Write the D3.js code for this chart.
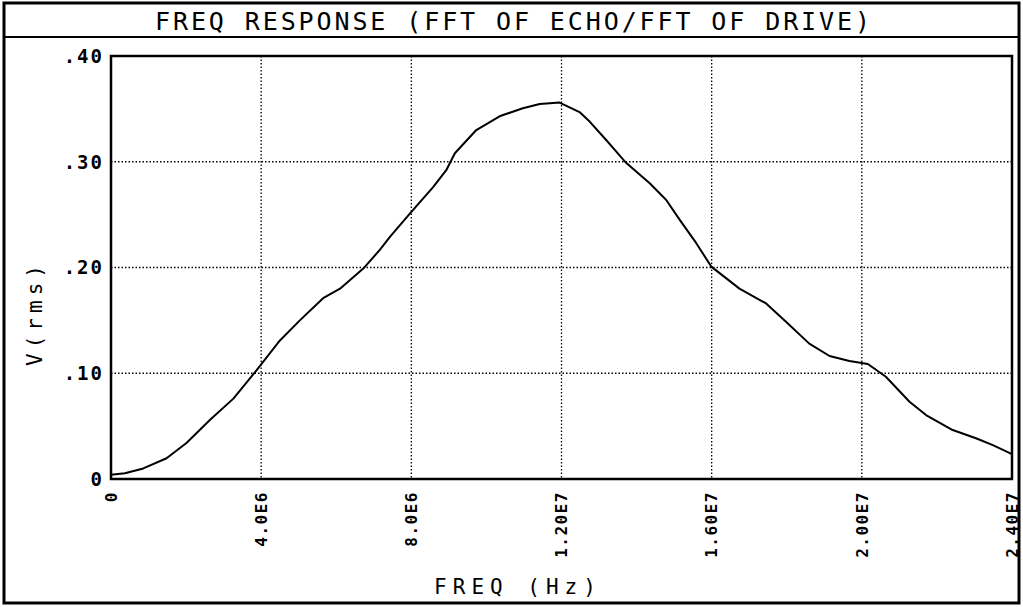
<!DOCTYPE html>
<html><head><meta charset="utf-8">
<script src="https://cdn.jsdelivr.net/npm/d3@7"></script>
<style>
html,body{margin:0;padding:0;background:#fff;}
svg{display:block;}
text{font-family:"DejaVu Sans Mono",monospace;fill:#000;}
</style></head>
<body>
<svg id="chart" width="1023" height="607"></svg>
<script>
const title = "FREQ RESPONSE (FFT OF ECHO/FFT OF DRIVE)";
const xLabel = "FREQ (Hz)";
const yLabel = "V(rms)";
const xTicks = [0, 4e6, 8e6, 1.2e7, 1.6e7, 2.0e7, 2.4e7];
const xTickLabels = ["0", "4.0E6", "8.0E6", "1.20E7", "1.60E7", "2.00E7", "2.40E7"];
const yTicks = [0, 0.1, 0.2, 0.3, 0.4];
const yTickLabels = ["0", ".10", ".20", ".30", ".40"];
const freq = [0, 0.37e6, 0.86e6, 1.48e6, 2.01e6, 2.64e6, 3.26e6, 3.88e6, 4.5e6, 5.03e6, 5.65e6, 6.10e6, 6.72e6, 7.16e6, 7.43e6, 7.96e6, 8.58e6, 8.93e6, 9.16e6, 9.73e6, 10.35e6, 10.97e6, 11.42e6, 11.95e6, 12.48e6, 12.75e6, 13.19e6, 13.46e6, 13.72e6, 14.35e6, 14.79e6, 15.15e6, 15.59e6, 15.99e6, 16.74e6, 17.45e6, 17.98e6, 18.60e6, 19.14e6, 19.67e6, 20.16e6, 20.64e6, 21.27e6, 21.71e6, 22.42e6, 23.04e6, 23.49e6, 24.0e6];
const vrms = [0.004, 0.0054, 0.010, 0.0196, 0.034, 0.056, 0.076, 0.103, 0.131, 0.150, 0.171, 0.180, 0.199, 0.2166, 0.229, 0.251, 0.276, 0.292, 0.308, 0.330, 0.343, 0.3506, 0.3546, 0.356, 0.347, 0.338, 0.3206, 0.3095, 0.299, 0.2796, 0.2638, 0.245, 0.223, 0.2008, 0.180, 0.166, 0.1487, 0.128, 0.1163, 0.1116, 0.1087, 0.0967, 0.0731, 0.0605, 0.0463, 0.0385, 0.032, 0.0236];

const svg = d3.select("#chart");
const L = 111, R = 1012, T = 56, B = 479;
const x = d3.scaleLinear().domain([0, 2.4e7]).range([L, R]);
const y = d3.scaleLinear().domain([0, 0.4]).range([B, T]);

// outer frame
svg.append("rect").attr("x", 4).attr("y", 3).attr("width", 1015).attr("height", 600)
  .attr("fill", "none").attr("stroke", "#000").attr("stroke-width", 3);
svg.append("line").attr("x1", 4).attr("x2", 1019).attr("y1", 37).attr("y2", 37)
  .attr("stroke", "#000").attr("stroke-width", 2);

svg.append("text").attr("x", 155).attr("y", 30).attr("font-size", 25)
  .attr("textLength", 715).attr("lengthAdjust", "spacing").text(title);

// grid
const g = svg.append("g");
g.selectAll(".vg").data(xTicks.slice(1, -1)).join("line")
  .attr("x1", d => x(d)).attr("x2", d => x(d)).attr("y1", T).attr("y2", B)
  .attr("stroke", "#000").attr("stroke-width", 1.3).attr("stroke-dasharray", "1.5,2");
g.selectAll(".hg").data(yTicks.slice(1, -1)).join("line")
  .attr("x1", L).attr("x2", R).attr("y1", d => y(d)).attr("y2", d => y(d))
  .attr("stroke", "#000").attr("stroke-width", 1.3).attr("stroke-dasharray", "1.5,2");

// plot border
svg.append("rect").attr("x", L).attr("y", T).attr("width", R - L).attr("height", B - T)
  .attr("fill", "none").attr("stroke", "#000").attr("stroke-width", 2.5);

// curve
const line = d3.line().x((d, i) => x(freq[i])).y(d => y(d));
svg.append("path").datum(vrms).attr("d", line)
  .attr("fill", "none").attr("stroke", "#000").attr("stroke-width", 2).attr("stroke-linejoin", "round");

// y tick labels
svg.selectAll(".yl").data(yTicks).join("text")
  .attr("x", 104).attr("y", d => y(d)).attr("dy", "0.36em")
  .attr("text-anchor", "end").attr("font-size", 19).attr("font-weight", "bold")
  .attr("letter-spacing", 2)
  .text((d, i) => yTickLabels[i]);

// x tick labels (rotated)
svg.selectAll(".xl").data(xTicks).join("text")
  .attr("transform", d => `translate(${x(d)},491) rotate(-90)`)
  .attr("dy", "0.36em").attr("text-anchor", "end").attr("font-size", 16).attr("font-weight", "bold")
  .attr("letter-spacing", 1.5)
  .text((d, i) => xTickLabels[i]);

// axis titles
svg.append("text").attr("transform", "translate(34,313) rotate(-90)")
  .attr("text-anchor", "middle").attr("font-size", 21).attr("dy", "0.36em")
  .attr("letter-spacing", 5).text(yLabel);
svg.append("text").attr("x", 518).attr("y", 594)
  .attr("text-anchor", "middle").attr("font-size", 21).attr("letter-spacing", 6).text(xLabel);
</script>
</body></html>
